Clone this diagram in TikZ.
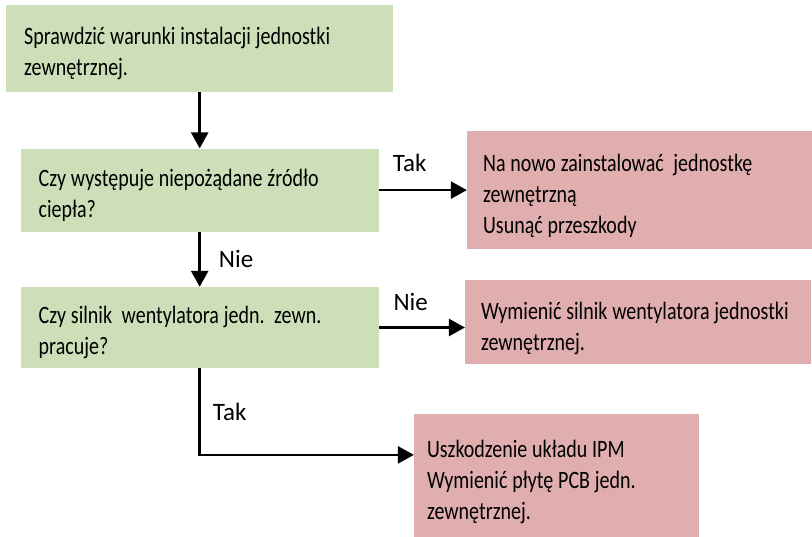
\documentclass[tikz,border=0pt]{standalone}
\usepackage{fontspec}
\setmainfont{Carlito}
\newfontfamily\boxfam[FakeStretch=0.80]{Carlito}
\newfontfamily\tagfam{Carlito}
\usepackage{tikz}
\usetikzlibrary{positioning, arrows.meta}
\usepackage{xcolor}
\definecolor{checkgreen}{HTML}{CCDFB9}
\definecolor{fixred}{HTML}{E0AEAE}

\begin{document}
\begin{tikzpicture}[
  x=1pt, y=-1pt,
  node distance=56pt and 88pt,
  check/.style={fill=checkgreen, inner xsep=18pt, inner ysep=0pt, align=left,
    font=\boxfam\fontsize{25}{31}\selectfont,
    execute at begin node={\spaceskip=4.8pt plus 2pt minus 1pt\xspaceskip=\spaceskip\rule{0pt}{27pt}}},
  fix/.style={fill=fixred, inner xsep=16pt, inner ysep=0pt, align=left,
    font=\boxfam\fontsize{25}{31}\selectfont,
    execute at begin node={\spaceskip=4.8pt plus 2pt minus 1pt\xspaceskip=\spaceskip\rule{0pt}{29pt}}},
  tag/.style={font=\tagfam\fontsize{25}{30}\selectfont, inner sep=0pt},
  flow/.style={->, line width=2.5pt},
  >={Triangle[length=16pt,width=17pt]}
]
  \useasboundingbox (0,0) rectangle (812,537);

  \node (start) [check, anchor=north west, text width=351pt, minimum height=87pt]
    at (6,5) {Sprawdzić warunki instalacji jednostki\\zewnętrznej.};
  \node (heat) [check, below=of start, text width=322pt, minimum height=83pt]
    {Czy występuje niepożądane źródło\\ciepła?};
  \node (fan) [check, below=55pt of heat, text width=322pt, minimum height=81pt]
    {Czy silnik\ \ wentylatora jedn.\ \ zewn.\\pracuje?};
  \node (reinstall) [fix, right=of heat, text width=313pt, minimum height=118pt]
    {Na nowo zainstalować\ \ jednostkę\\zewnętrzną\\Usunąć przeszkody};
  \node (motor) [fix, right=86pt of fan, yshift=5pt, text width=314pt, minimum height=84pt]
    {Wymienić silnik wentylatora jednostki\\zewnętrznej.};
  \node (ipm) [fix, below right=46pt and 35pt of fan, inner xsep=13pt, text width=259pt,
    minimum height=123pt]
    {Uszkodzenie układu IPM\\Wymienić płytę PCB jedn.\\zewnętrznej.};

  \draw[flow] (start) -- (heat);
  \draw[flow] (heat) -- node[tag, right=18pt] {Nie} (fan);
  \draw[flow] (heat) -- node[tag, above=17pt, pos=0.35] {Tak} (reinstall);
  \draw[flow] (fan.east) -- node[tag, above=16pt, pos=0.37] {Nie} (fan.east -| motor.west);
  \draw[flow] (fan.south) |- node[tag, right=12pt, pos=0.25] {Tak} ([yshift=21pt]ipm.west);
\end{tikzpicture}
\end{document}
